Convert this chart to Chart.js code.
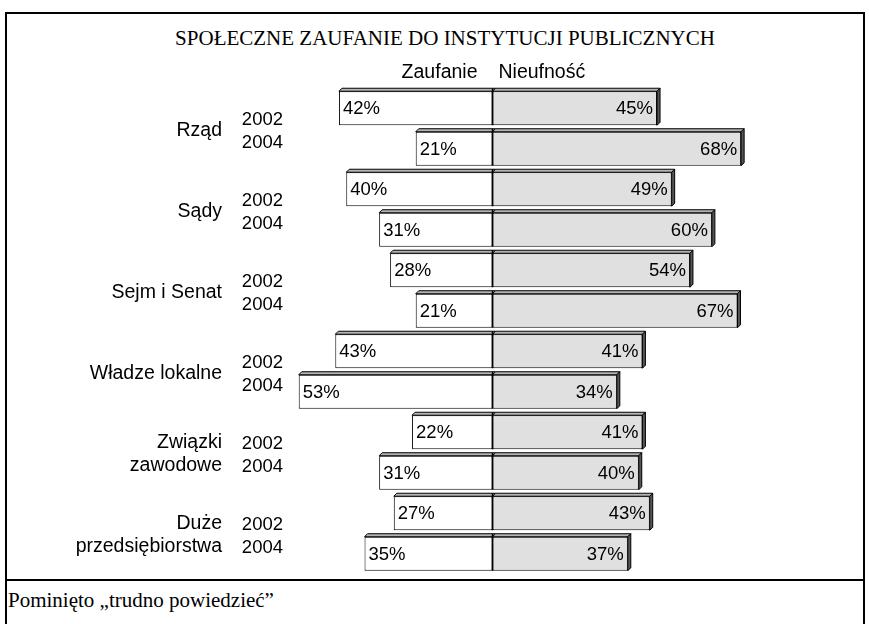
<!DOCTYPE html>
<html>
<head>
<meta charset="utf-8">
<script src="https://cdn.jsdelivr.net/npm/chart.js@4.4.1/dist/chart.umd.min.js"></script>
<style>
  html, body { margin: 0; padding: 0; background: #fff; overflow: hidden; }
  #frame { position: absolute; left: 5px; top: 12px; width: 856px; height: 640px; border: 2px solid #000; }
  #divider { position: absolute; left: 5px; top: 579px; width: 860px; height: 2px; background: #000; }
  #title { position: absolute; left: 0; top: 27px; width: 890px; text-align: center; font: 21px/22px 'Liberation Serif', 'Times New Roman', serif; color: #000; }
  #note { position: absolute; left: 8px; top: 589px; font: 21px/22px 'Liberation Serif', 'Times New Roman', serif; color: #000; }
  canvas { position: absolute; left: 0; top: 0; }
</style>
</head>
<body>
<div id="frame"></div>
<div id="divider"></div>
<div id="title">SPOŁECZNE ZAUFANIE DO INSTYTUCJI PUBLICZNYCH</div>
<div id="note">Pominięto „trudno powiedzieć”</div>
<canvas id="chart" width="869" height="624"></canvas>
<script>
// ─── Data ───────────────────────────────────────────────────
const categories = [['Rząd'], ['Sądy'], ['Sejm i Senat'], ['Władze lokalne'], ['Związki', 'zawodowe'], ['Duże', 'przedsiębiorstwa']];
const years = ['2002', '2004'];
const seriesNames = ['Zaufanie', 'Nieufność'];
const trust2002 = [42, 40, 28, 43, 22, 27];
const distrust2002 = [45, 49, 54, 41, 41, 43];
const trust2004 = [21, 31, 21, 53, 31, 35];
const distrust2004 = [68, 60, 67, 34, 40, 37];

const FONT = "'Liberation Sans', Arial, sans-serif";
const DEPTH = 3;

function barSet(label, values, stack, negative) {
  return {
    label,
    data: values.map(v => (negative ? -v : v)),
    stack,
    backgroundColor: negative ? '#ffffff' : '#e0e0e0',
    borderColor: '#000',
    borderWidth: 1,
    borderSkipped: false,
    barPercentage: 0.84,
    categoryPercentage: 1,
  };
}

// 3D top/right faces + value labels
const depthPlugin = {
  id: 'depth',
  afterDatasetsDraw(chart) {
    const ctx = chart.ctx;
    ctx.save();
    ctx.lineWidth = 1;
    ctx.strokeStyle = '#000';
    chart.data.datasets.forEach((ds, di) => {
      const meta = chart.getDatasetMeta(di);
      meta.data.forEach((bar, i) => {
        const { x, y, base, height } = bar.getProps(['x', 'y', 'base', 'height'], true);
        const left = Math.min(x, base), right = Math.max(x, base);
        const top = y - height / 2, bottom = y + height / 2;
        // top face
        ctx.beginPath();
        ctx.moveTo(left, top);
        ctx.lineTo(left + DEPTH, top - DEPTH);
        ctx.lineTo(right + DEPTH, top - DEPTH);
        ctx.lineTo(right, top);
        ctx.closePath();
        ctx.fillStyle = '#b4b4b4';
        ctx.fill();
        ctx.stroke();
        if (ds.data[i] > 0) {
          ctx.beginPath();
          ctx.moveTo(right, top);
          ctx.lineTo(right + DEPTH, top - DEPTH);
          ctx.lineTo(right + DEPTH, bottom - DEPTH);
          ctx.lineTo(right, bottom);
          ctx.closePath();
          ctx.fillStyle = '#555555';
          ctx.fill();
          ctx.stroke();
        }
        // value label
        ctx.fillStyle = '#000';
        ctx.font = `18.5px ${FONT}`;
        ctx.textBaseline = 'middle';
        const txt = Math.abs(ds.data[i]) + '%';
        if (ds.data[i] < 0) {
          ctx.textAlign = 'left';
          ctx.fillText(txt, left + 4, y + 1);
        } else {
          ctx.textAlign = 'right';
          ctx.fillText(txt, right - 4, y + 1);
        }
      });
    });
    // center divider
    const mid = chart.scales.x.getPixelForValue(0);
    ctx.lineWidth = 1.5;
    chart.getDatasetMeta(0).data.concat(chart.getDatasetMeta(2).data).forEach(bar => {
      const { y, height } = bar.getProps(['y', 'height'], true);
      ctx.beginPath();
      ctx.moveTo(mid, y - height / 2 - DEPTH);
      ctx.lineTo(mid, y + height / 2);
      ctx.stroke();
    });
    ctx.restore();
  },
  afterDraw(chart) {
    const ctx = chart.ctx;
    const yScale = chart.scales.y;
    const mid = chart.scales.x.getPixelForValue(0);
    ctx.save();
    ctx.fillStyle = '#000';
    ctx.textBaseline = 'middle';
    // column headers
    ctx.font = `19.5px ${FONT}`;
    ctx.textAlign = 'right';
    ctx.fillText(seriesNames[0], mid - 15, 73);
    ctx.textAlign = 'left';
    ctx.fillText(seriesNames[1], mid + 6, 73);
    // category names and years
    categories.forEach((lines, i) => {
      const yc = yScale.getPixelForValue(i);
      ctx.textAlign = 'right';
      ctx.font = `18.5px ${FONT}`;
      ctx.fillText(years[0], 283, yc - 9);
      ctx.fillText(years[1], 283, yc + 14);
      ctx.font = `19.5px ${FONT}`;
      if (lines.length === 1) {
        ctx.fillText(lines[0], 222, yc + 2);
      } else {
        ctx.fillText(lines[0], 222, yc - 10);
        ctx.fillText(lines[1], 222, yc + 13);
      }
    });
    ctx.restore();
  },
};

new Chart(document.getElementById('chart'), {
  type: 'bar',
  data: {
    labels: categories.map(c => c.join(' ')),
    datasets: [
      barSet(seriesNames[0] + ' ' + years[0], trust2002, 's2002', true),
      barSet(seriesNames[1] + ' ' + years[0], distrust2002, 's2002', false),
      barSet(seriesNames[0] + ' ' + years[1], trust2004, 's2004', true),
      barSet(seriesNames[1] + ' ' + years[1], distrust2004, 's2004', false),
    ],
  },
  options: {
    indexAxis: 'y',
    responsive: false,
    animation: false,
    layout: { padding: { left: 200, right: 84, top: 88, bottom: 50 } },
    plugins: { legend: { display: false }, tooltip: { enabled: false } },
    scales: {
      x: { display: false, stacked: true, min: -80, max: 80 },
      y: { display: false },
    },
  },
  plugins: [depthPlugin],
});
</script>
</body>
</html>
